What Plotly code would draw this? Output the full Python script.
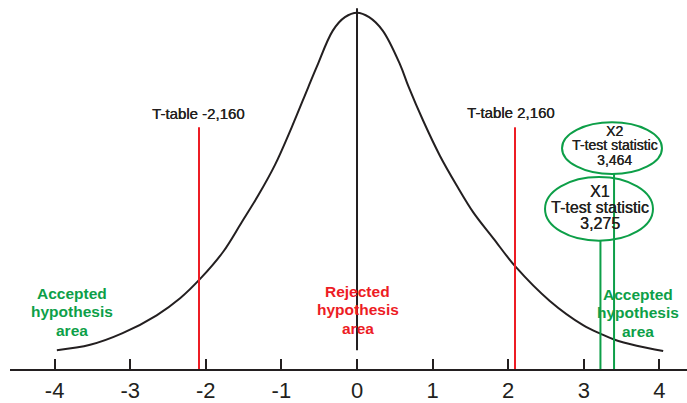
import plotly.graph_objects as go

# density curve
curve_x = [-3.97, -3.53, -3.10, -2.65, -2.34, -2.06, -1.77, -1.525, -1.306, -1.085,
           -0.864, -0.644, -0.53, -0.32, -0.16, 0.0, 0.16, 0.34, 0.57, 0.679,
           0.877, 1.098, 1.319, 1.538, 1.803, 2.10, 2.55, 2.99, 3.23, 3.40,
           3.70, 4.05]
curve_y = [0.021, 0.027, 0.040, 0.060, 0.079, 0.102, 0.131, 0.164, 0.194, 0.228,
           0.270, 0.315, 0.338, 0.378, 0.393, 0.398, 0.393, 0.378, 0.340, 0.316,
           0.277, 0.238, 0.205, 0.175, 0.146, 0.114, 0.076, 0.049, 0.039, 0.033,
           0.026, 0.020]

tick_vals = [-4, -3, -2, -1, 0, 1, 2, 3, 4]
tick_text = ["-4", "-3", "-2", "-1", "0", "1", "2", "3", "4"]

# critical values (as drawn) and test statistics (as drawn)
t_table = [-2.09, 2.09]
t_table_labels = ["T-table -2,160", "T-table 2,160"]
t_stat = [3.22, 3.40]
t_stat_labels = [["X1", "T-test statistic", "3,275"],
                 ["X2", "T-test statistic", "3,464"]]

mean_line_y = [0.021, 0.403]
red_top = 0.27
green_tops = [0.143, 0.218]

BLACK = "#231f20"
RED = "#ed1c24"
GREEN = "#0d9f48"
FONT = "Liberation Sans, Arial, sans-serif"

fig = go.Figure()

fig.add_trace(go.Scatter(
    x=curve_x, y=curve_y, mode="lines",
    line=dict(color=BLACK, width=2, shape="spline", smoothing=1.0),
    hoverinfo="skip",
))

fig.add_trace(go.Scatter(
    x=[0, 0], y=mean_line_y, mode="lines",
    line=dict(color=BLACK, width=2), hoverinfo="skip",
))

for xv in t_table:
    fig.add_trace(go.Scatter(
        x=[xv, xv], y=[0, red_top], mode="lines",
        line=dict(color=RED, width=2), hoverinfo="skip",
    ))

for xv, top in zip(t_stat, green_tops):
    fig.add_trace(go.Scatter(
        x=[xv, xv], y=[0, top], mode="lines",
        line=dict(color=GREEN, width=2), hoverinfo="skip",
    ))

# ellipses around the test statistics
fig.add_shape(type="circle", x0=2.487, x1=3.915, y0=0.1433, y1=0.2144,
              line=dict(color=GREEN, width=2), layer="above")
fig.add_shape(type="circle", x0=2.712, x1=4.034, y0=0.2178, y1=0.2756,
              line=dict(color=GREEN, width=2), layer="above")


def label(text, x, y, size, color, bold=False):
    font = dict(family=FONT, size=size, color=color)
    if bold:
        text = "<b>" + text + "</b>"
    else:
        # regular text in the reference looks a little heavier
        font["shadow"] = "0.35px 0 0 " + color
    fig.add_annotation(
        x=x, y=y, text=text, showarrow=False,
        xanchor="center", yanchor="middle", font=font,
    )


label(t_table_labels[0], -2.10, 0.2856, 15, BLACK)
label(t_table_labels[1], 2.04, 0.2867, 15, BLACK)

for txt, yv in zip(t_stat_labels[0], [0.1978, 0.18, 0.1622]):
    label(txt, 3.21, yv, 16, BLACK)
for txt, yv in zip(t_stat_labels[1], [0.2656, 0.25, 0.2333]):
    label(txt, 3.41, yv, 14, BLACK)

area_lines = ["Accepted", "hypothesis", "area"]
rej_lines = ["Rejected", "hypothesis", "area"]
for txt, yv in zip(area_lines, [0.0844, 0.0644, 0.0433]):
    label(txt, -3.77, yv, 15.5, GREEN, bold=True)
for txt, yv in zip(area_lines, [0.0833, 0.0633, 0.0422]):
    label(txt, 3.72, yv, 15.5, GREEN, bold=True)
for txt, yv in zip(rej_lines, [0.0867, 0.0667, 0.0456]):
    label(txt, 0.01, yv, 15.5, RED, bold=True)

fig.update_layout(
    width=687, height=403,
    margin=dict(l=10, r=0, t=0, b=32),
    paper_bgcolor="white", plot_bgcolor="white",
    showlegend=False,
    xaxis=dict(
        range=[-4.59, 4.365],
        tickvals=tick_vals, ticktext=tick_text,
        ticks="inside", ticklen=10, tickwidth=1.5, tickcolor=BLACK,
        showline=True, linecolor=BLACK, linewidth=2,
        showgrid=False, zeroline=False,
        tickfont=dict(family=FONT, size=22, color=BLACK),
        ticklabelstandoff=1,
        fixedrange=True,
    ),
    yaxis=dict(
        range=[0, 0.4122], visible=False, showgrid=False,
        zeroline=False, fixedrange=True,
    ),
)

fig.write_html(
    "out.html",
    config={"displayModeBar": False},
    post_script="document.body.style.margin = '0';",
)
